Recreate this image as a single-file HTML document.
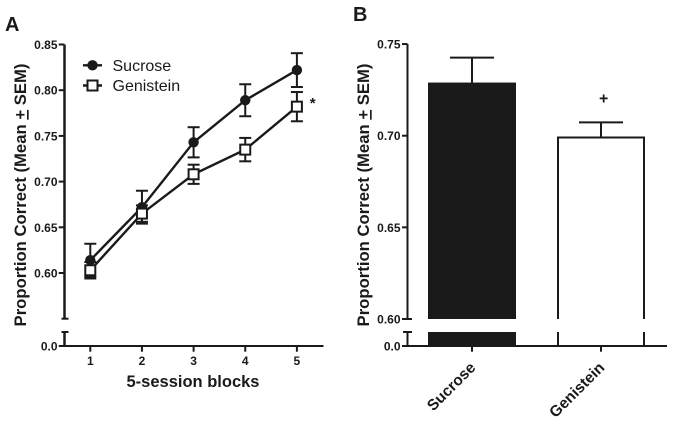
<!DOCTYPE html>
<html>
<head>
<meta charset="utf-8">
<style>
html,body{margin:0;padding:0;background:#fff;width:675px;height:425px;overflow:hidden}
svg{display:block;font-family:"Liberation Sans",Arial,sans-serif}
text{fill:#1a1a1a}
</style>
</head>
<body>
<svg id="fig" width="675" height="425" viewBox="0 0 675 425" xmlns="http://www.w3.org/2000/svg"></svg>
<script>
// Panel A data
const blocks = ['1', '2', '3', '4', '5'];
const sucroseMeans = [0.614, 0.672, 0.743, 0.789, 0.822];
const sucroseSem = [0.018, 0.018, 0.0165, 0.0175, 0.0185];
const genisteinMeans = [0.603, 0.665, 0.708, 0.735, 0.782];
const genisteinSem = [0.009, 0.009, 0.0105, 0.0128, 0.016];
const ticksA = [0.60, 0.65, 0.70, 0.75, 0.80, 0.85];
// Panel B data
const groups = ['Sucrose', 'Genistein'];
const groupMeans = [0.729, 0.699];
const groupSem = [0.0136, 0.0083];
const ticksB = [0.60, 0.65, 0.70, 0.75];

const INK = '#1a1a1a';
const svg = document.getElementById('fig');
const NS = 'http://www.w3.org/2000/svg';
function make(tag, attrs, txt) {
  const el = document.createElementNS(NS, tag);
  for (const k in attrs) el.setAttribute(k, attrs[k]);
  if (txt !== undefined) el.textContent = txt;
  svg.appendChild(el);
  return el;
}
function seg(x1, y1, x2, y2, w) {
  return make('line', {x1: x1, y1: y1, x2: x2, y2: y2, stroke: INK, 'stroke-width': w});
}
const BASE_Y = 346, BREAK_Y = 332;
function yA(v) { return 273 - (v - 0.60) * 914; }
function xA(i) { return 90.3 + i * 51.65; }
function yB(v) { return 319 - (v - 0.60) * 1833; }

// Panel letters
let el = make('text', {x: 5, y: 31, 'font-size': 20, 'font-weight': 700}, 'A');


el = make('text', {x: 353, y: 21, 'font-size': 20, 'font-weight': 700}, 'B');



// Panel A axes
const axA = 64.5;
el = seg(axA, yA(0.85), axA, yA(0.55), 2.5);


el = seg(axA, BREAK_Y, axA, BASE_Y, 2.5);


el = seg(61.5, yA(0.55), 68.5, yA(0.55), 2);


el = seg(61.5, BREAK_Y, 68.5, BREAK_Y, 2);


el = seg(58.7, BASE_Y, 323.5, BASE_Y, 2);


el = make('text', {x: 57.5, y: BASE_Y + 4.5, 'font-size': 12, 'font-weight': 700, 'text-anchor': 'end'}, '0.0');


ticksA.forEach(function (t) {
  const tk = seg(58.7, yA(t), axA, yA(t), 2);
  
  
  const lb = make('text', {x: 57.5, y: yA(t) + 4.5, 'font-size': 12, 'font-weight': 700, 'text-anchor': 'end'}, t.toFixed(2));
  
  
});
blocks.forEach(function (b, i) {
  const tk = seg(xA(i), BASE_Y, xA(i), 351.7, 2);
  
  
  const lb = make('text', {x: xA(i), y: 365, 'font-size': 12, 'font-weight': 700, 'text-anchor': 'middle'}, b);
  
  
});
el = make('text', {x: 193, y: 387, 'font-size': 16.5, 'font-weight': 700, 'text-anchor': 'middle'}, '5-session blocks');



function yTitle(cx, name) {
  const t = make('text', {x: 0, y: 0, 'font-size': 16.7, 'font-weight': 700, 'text-anchor': 'middle', transform: 'translate(' + cx + ',195) rotate(-90)'});
  
  
  const a = document.createElementNS(NS, 'tspan');
  a.textContent = 'Proportion Correct (Mean ';
  t.appendChild(a);
  const b = document.createElementNS(NS, 'tspan');
  b.setAttribute('text-decoration', 'underline');
  b.textContent = '+';
  t.appendChild(b);
  const c = document.createElementNS(NS, 'tspan');
  c.textContent = ' SEM)';
  t.appendChild(c);
}
yTitle(26, 'a-y-axis-title');

// Panel A series
function errorBars(means, sem, name) {
  means.forEach(function (m, i) {
    const x = xA(i), hi = yA(m + sem[i]), lo = yA(m - sem[i]);
    const s = seg(x, hi, x, lo, 2);
    
    
    const c1 = seg(x - 6, hi, x + 6, hi, 2);
    
    
    const c2 = seg(x - 6, lo, x + 6, lo, 2);
    
    
  });
}
function pts(means) {
  return means.map(function (m, i) { return xA(i) + ',' + yA(m); }).join(' ');
}
errorBars(sucroseMeans, sucroseSem, 'sucrose');
el = make('polyline', {points: pts(sucroseMeans), fill: 'none', stroke: INK, 'stroke-width': 2.4});


sucroseMeans.forEach(function (m, i) {
  const p = make('circle', {cx: xA(i), cy: yA(m), r: 5.2, fill: INK});
  
  
});
errorBars(genisteinMeans, genisteinSem, 'genistein');
el = make('polyline', {points: pts(genisteinMeans), fill: 'none', stroke: INK, 'stroke-width': 2.4});


genisteinMeans.forEach(function (m, i) {
  const p = make('rect', {x: xA(i) - 5, y: yA(m) - 5, width: 10, height: 10, fill: '#fff', stroke: INK, 'stroke-width': 2});
  
  
});
el = make('text', {x: 312.7, y: 108, 'font-size': 15, 'font-weight': 700, 'text-anchor': 'middle'}, '*');



// Legend
el = seg(83, 65.3, 102, 65.3, 2.4);


el = make('circle', {cx: 92.5, cy: 65.3, r: 5.2, fill: INK});


el = make('text', {x: 112.5, y: 71, 'font-size': 16}, 'Sucrose');


el = seg(83, 85.5, 102, 85.5, 2.4);


el = make('rect', {x: 87.5, y: 80.5, width: 10, height: 10, fill: '#fff', stroke: INK, 'stroke-width': 2});


el = make('text', {x: 112.5, y: 91, 'font-size': 16}, 'Genistein');



// Panel B axes
const axB = 407.5;
el = seg(axB, yB(0.75), axB, yB(0.60), 2);


el = seg(axB, BREAK_Y, axB, BASE_Y, 2);


el = seg(403, BREAK_Y, 412, BREAK_Y, 2);


el = seg(402, yB(0.60), 412, yB(0.60), 2);


el = seg(402, BASE_Y, 667, BASE_Y, 2);


el = make('text', {x: 400.5, y: BASE_Y + 4.5, 'font-size': 12, 'font-weight': 700, 'text-anchor': 'end'}, '0.0');


ticksB.forEach(function (t) {
  const tk = seg(402, yB(t), axB, yB(t), 2);
  
  
  const lb = make('text', {x: 400.5, y: yB(t) + 4.5, 'font-size': 12, 'font-weight': 700, 'text-anchor': 'end'}, t.toFixed(2));
  
  
});
yTitle(369, 'b-y-axis-title');

// Panel B bars
const barCenters = [472, 601];
const barHalf = [44, 43];
const barFill = [true, false];
groups.forEach(function (g, i) {
  const cx = barCenters[i], hw = barHalf[i], top = yB(groupMeans[i]), errY = yB(groupMeans[i] + groupSem[i]);
  const s = seg(cx, errY, cx, top, 2);
  
  
  const c = seg(cx - 22, errY, cx + 22, errY, 2);
  
  
  if (barFill[i]) {
    const b1 = make('rect', {x: cx - hw, y: top, width: hw * 2, height: yB(0.60) - top, fill: INK});
    
    
    const b2 = make('rect', {x: cx - hw, y: BREAK_Y, width: hw * 2, height: BASE_Y - BREAK_Y, fill: INK});
    
    
  } else {
    const b1 = make('path', {d: 'M' + (cx - hw) + ' ' + yB(0.60) + 'V' + top + 'H' + (cx + hw) + 'V' + yB(0.60), fill: '#fff', stroke: INK, 'stroke-width': 2});
    
    
    const b2 = seg(cx - hw, BREAK_Y, cx - hw, BASE_Y, 2);
    
    
    const b3 = seg(cx + hw, BREAK_Y, cx + hw, BASE_Y, 2);
    
    
  }
  const tk = seg(cx, BASE_Y, cx, 351.7, 2);
  
  
  const lb = make('text', {x: 0, y: 0, 'font-size': 15.5, 'font-weight': 700, 'text-anchor': 'end', transform: 'translate(' + (cx + 4.5) + ',368.5) rotate(-45)'}, g);
  
  
});
el = make('text', {x: 603.7, y: 103.5, 'font-size': 16, 'font-weight': 700, 'text-anchor': 'middle'}, '+');


</script>
</body>
</html>
